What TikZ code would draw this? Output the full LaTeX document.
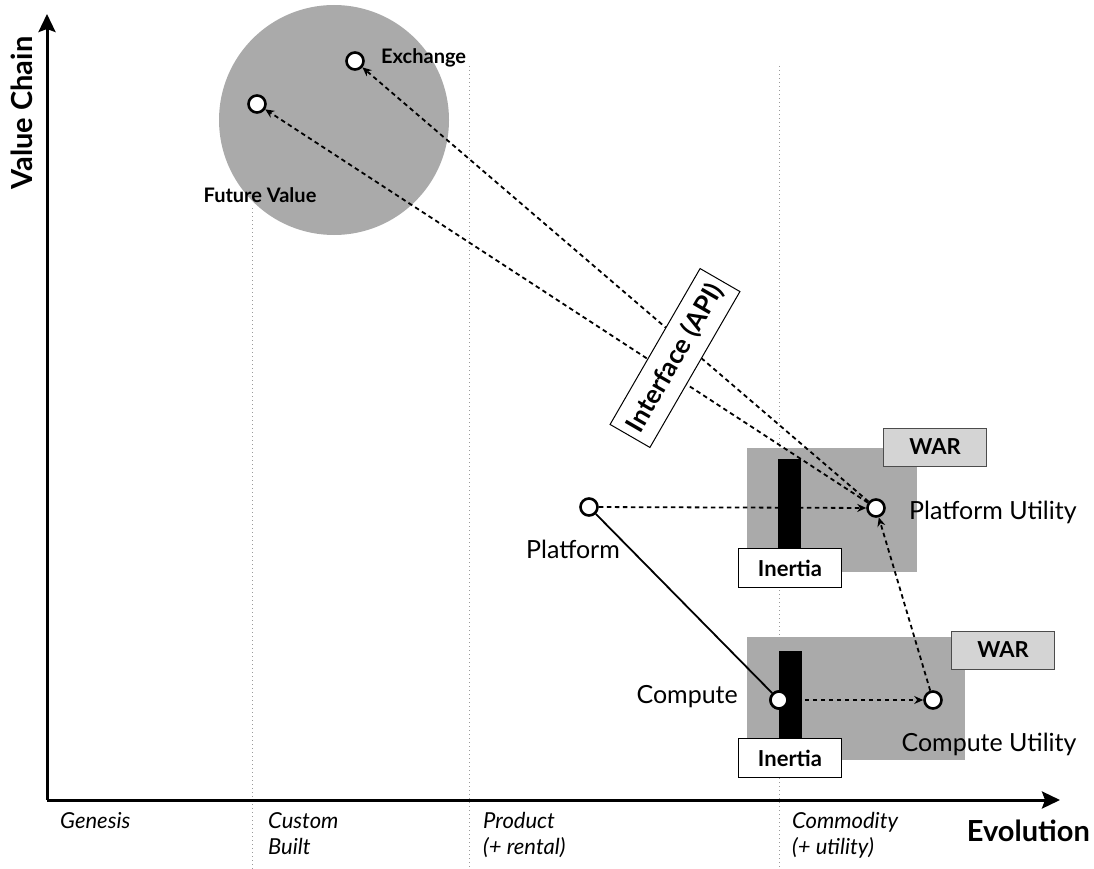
\documentclass[tikz,border=0pt]{standalone}
\usepackage{fontspec}
\setmainfont{Lato}
\usetikzlibrary{arrows.meta}
\definecolor{zone}{HTML}{AAAAAA}
\definecolor{warfill}{HTML}{D4D4D4}
\definecolor{guide}{HTML}{9A9A9A}
\begin{document}
\begin{tikzpicture}[x=1pt,y=-1pt,
  comp/.style={circle,draw=black,fill=white,line width=2.6pt,minimum size=17pt,inner sep=0pt},
  lbl/.style={font=\fontsize{25}{28}\selectfont,inner sep=0pt},
  blbl/.style={font=\fontsize{20}{24}\selectfont\bfseries,inner sep=0pt},
  axislbl/.style={font=\fontsize{29}{32}\selectfont\bfseries,inner sep=0pt},
  stage/.style={font=\fontsize{22}{26}\selectfont\itshape,inner sep=0pt,align=left,anchor=north west},
  guideline/.style={guide,line width=1pt,dash pattern=on 1pt off 3pt},
  flow/.style={line width=1.8pt,dash pattern=on 4.5pt off 3.5pt,-{Stealth[length=9pt,width=8pt]}},
  warbox/.style={draw=black!70,fill=warfill,line width=1pt,minimum width=103pt,minimum height=38pt,font=\fontsize{22}{24}\selectfont\bfseries},
  inertiabox/.style={draw=black,fill=white,line width=1pt,minimum width=103pt,minimum height=39pt,font=\fontsize{22}{24}\selectfont\bfseries},
  axis/.style={line width=3pt,-{Stealth[length=18pt,width=17pt,inset=3pt]}}
]
\useasboundingbox (0,0) rectangle (1094,869);
% zone circle
\fill[zone] (334,120) circle (115);
% guide lines
\draw[guideline] (252,208) -- (252,869);
\draw[guideline] (469,66) -- (469,869);
\draw[guideline] (779,66) -- (779,869);
% war zones
\fill[zone] (747,448) rectangle (917,572);
\fill[zone] (747,637) rectangle (965,760);
\node[warbox] (war1) at (935,447) {WAR};
\node[warbox] (war2) at (1003,650) {WAR};
\fill[black] (778,459) rectangle (801,560);
\fill[black] (779,651) rectangle (802,750);
% axes
\coordinate (origin) at (47,800);
\coordinate (ytop) at (47,14);
\coordinate (xend) at (1060,800);
\draw[axis] (origin) -- (ytop);
\draw[axis] (origin) -- (xend);
\node[axislbl,rotate=90] (vc) at (22,113) {Value Chain};
\node[axislbl,anchor=east] (evo) at (1090,831) {Evolution};
% stages
\node[stage] (gen) at (60,812) {Genesis};
\node[stage] (cb) at (268,812) {Custom\\Built};
\node[stage] (prod) at (483,812) {Product\\(+ rental)};
\node[stage] (comm) at (792,812) {Commodity\\(+ utility)};
% components
\node[comp] (exch) at (355,61) {};
\node[comp] (fv) at (257,104) {};
\node[comp] (plat) at (589,507) {};
\node[comp] (pu) at (876,508) {};
\node[comp] (compute) at (779,700) {};
\node[comp] (cu) at (933,700) {};
\node[blbl,anchor=west] (exchl) at (381,58) {Exchange};
\node[blbl] (fvl) at (260,195) {Future Value};
\node[lbl] (platl) at (573,549) {Platform};
\node[lbl,anchor=west] (pul) at (909,512) {Platform Utility};
\node[lbl,anchor=east] (computel) at (738,697) {Compute};
\node[lbl] (cul) at (989,744) {Compute Utility};
% connectors
\draw[line width=1.8pt] (plat) -- (compute);
\draw[flow] (plat) -- (pu);
\draw[flow] (compute) -- (cu);
\draw[flow] (cu) -- (pu);
\draw[flow] (pu) -- (exch);
\draw[flow] (pu) -- (fv);
% interface label
\node[draw=black,fill=white,line width=1pt,rotate=60,minimum width=180pt,minimum height=46pt,font=\fontsize{26}{28}\selectfont\bfseries] (api) at (675,358) {Interface (API)};
% inertia boxes
\node[inertiabox] (in1) at (790,568) {Inertia};
\node[inertiabox] (in2) at (790,758) {Inertia};
% redraw compute node on top of the bar
\node[comp] at (compute) {};
\end{tikzpicture}
\end{document}
